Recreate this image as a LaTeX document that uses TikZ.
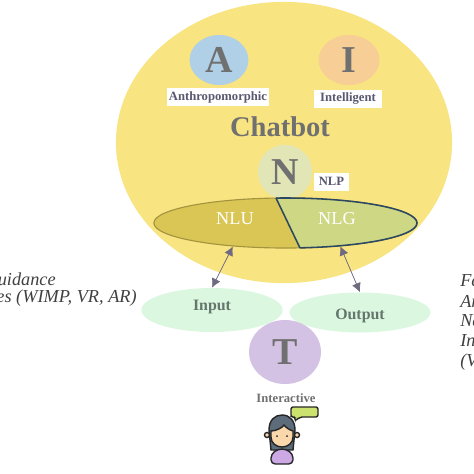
\documentclass[tikz,border=0pt]{standalone}
\usepackage{fontspec}
\setmainfont{Liberation Serif}
\usepackage{xcolor}
\usetikzlibrary{shapes.geometric}
\usetikzlibrary{arrows.meta}
\definecolor{chatbotyellow}{RGB}{248,228,128}
\definecolor{letterblue}{RGB}{176,208,232}
\definecolor{letterorange}{RGB}{246,206,150}
\definecolor{lettergreen}{RGB}{226,230,182}
\definecolor{letterpurple}{RGB}{212,194,228}
\definecolor{mintgreen}{RGB}{220,247,224}
\definecolor{nluyellow}{RGB}{218,198,84}
\definecolor{nlggreen}{RGB}{206,216,132}
\definecolor{darkslate}{RGB}{44,72,96}
\definecolor{lettergray}{RGB}{112,112,112}
\definecolor{labelgray}{RGB}{88,88,112}
\definecolor{arrowgray}{RGB}{112,106,128}
\definecolor{iogray}{RGB}{100,118,110}
\definecolor{skintone}{RGB}{250,216,172}
\definecolor{hairgray}{RGB}{92,108,122}
\definecolor{shirtpurple}{RGB}{204,168,228}
\definecolor{bubblegreen}{RGB}{204,226,110}
\begin{document}
\begin{tikzpicture}[
    x=0.025cm, y=-0.025cm,
    % Round letter nodes
    letter node/.style={ellipse, inner sep=0pt, text=lettergray,
      font=\bfseries\fontsize{27}{27}\selectfont},
    % White boxes below the letters
    white label/.style={fill=white, text=labelgray, inner sep=0pt,
      font=\bfseries\fontsize{9}{10}\selectfont},
    % Input and output
    io node/.style={ellipse, fill=mintgreen, inner sep=0pt, minimum width=3.53cm},
    io text/.style={text=iogray, font=\bfseries\fontsize{11.3}{13}\selectfont},
    nlp text/.style={text=white, font=\fontsize{13}{15}\selectfont},
    % Italic side notes
    side text/.style={anchor=west, inner sep=0pt, text=black!75, font=\itshape\fontsize{13}{14}\selectfont},
    % Two headed arrows
    my edge/.style={{Latex[length=6.5pt, width=6.5pt]}-{Latex[length=6.5pt, width=6.5pt]},
      draw=arrowgray, fill=arrowgray, line width=0.5pt},
    person line/.style={draw=black!85, line width=1pt}
  ]
  \useasboundingbox (0,0) rectangle (474,474);

  % --- Node Definitions ---
  \node[ellipse, fill=chatbotyellow, minimum width=8.4cm, minimum height=7.03cm] (chatbot shape) at (284,142.5) {};
  \node[letter node, fill=letterblue, minimum width=1.47cm, minimum height=1.25cm] (a) at (219,60) {A};
  \node[letter node, fill=letterorange, minimum width=1.52cm, minimum height=1.25cm] (i) at (349,60) {I};
  \node[white label, minimum width=2.55cm, minimum height=0.45cm] (anthropomorphic) at (218,97) {Anthropomorphic};
  \node[white label, minimum width=1.7cm, minimum height=0.45cm] (intelligent) at (348,99) {Intelligent};
  \node[text=lettergray, font=\bfseries\fontsize{20.3}{22}\selectfont] (chatbot) at (280,127) {Chatbot};
  \node[letter node, fill=lettergreen, minimum size=1.36cm] (n) at (285,172) {N};
  \node[white label, minimum width=0.87cm, minimum height=0.45cm] (nlp) at (331.5,181.5) {NLP};

  \node[ellipse, fill=nluyellow, draw=nluyellow!75!black, thick, minimum width=6.58cm, minimum height=1.25cm] (lens) at (285.5,223) {};
  \begin{scope}
    \clip (276,190) -- (276,198) -- (300,248) -- (300,256) -- (425,256) -- (425,190) -- cycle;
    \draw[fill=nlggreen, draw=darkslate, line width=1.1pt] (lens.center) ellipse (131.5 and 25);
  \end{scope}
  \coordinate (split top) at (276,198);
  \coordinate (split bottom) at (300,248);
  \draw[draw=darkslate, line width=1.1pt] (split top) -- (split bottom);
  \node[nlp text] (nlu) at (235,219) {NLU};
  \node[nlp text] (nlg) at (337,219) {NLG};

  \node[io node, minimum height=1.1cm] (input) at (212,310) {};
  \node[io node, minimum height=1cm] (output) at (360,312.5) {};
  \node[io text] (input text) at (212,307) {Input};
  \node[io text] (output text) at (360,316) {Output};
  \node[letter node, fill=letterpurple, minimum width=1.8cm, minimum height=1.6cm] (t) at (285,352) {T};
  \node[text=lettergray, font=\bfseries\fontsize{9}{11}\selectfont] (interactive) at (286,398) {Interactive};

  \node[side text, anchor=east] (guidance) at (56,279) {uidance};
  \node[side text, anchor=east] (wimp) at (137,298) {es (WIMP, VR, AR)};
  \node[side text] (fe) at (460,281) {Fe};
  \node[side text] (ar) at (460,301) {Ar};
  \node[side text] (na) at (460,321) {Na};
  \node[side text] (in) at (460,341) {In};
  \node[side text] (vi) at (460,362) {(V};

  % --- Edge Definitions ---
  \draw[my edge] (lens.204) -- (input.north);
  \draw[my edge] (lens.337) -- (output.north);

  % person
  \draw[person line, fill=bubblegreen, rounded corners=1.5pt] (291,407) -- (318,407) -- (318,417) -- (300,417) -- (295,421) -- (295,417) -- (291,417) -- cycle;
  \draw[person line, fill=hairgray] (271,450) -- (269,430) .. controls (269,420) and (275,415) .. (282,415) .. controls (290,415) and (295,421) .. (295,430) -- (293,450) -- cycle;
  \draw[person line, fill=shirtpurple, rounded corners=3pt] (271,464) -- (271,454) -- (278,449) -- (286,449) -- (293,454) -- (293,464) -- cycle;
  \draw[person line, fill=skintone] (267,435) circle (2.5);
  \draw[person line, fill=skintone] (297,435) circle (2.5);
  \draw[person line, fill=skintone] (271,431) .. controls (276,431) and (282,428) .. (284,425) .. controls (286,428) and (290,430) .. (293,431) -- (293,437) .. controls (293,443) and (288,447) .. (282,447) .. controls (276,447) and (271,443) .. (271,437) -- cycle;
  \fill[black!85] (277,436) circle (1);
  \fill[black!85] (287,436) circle (1);
\end{tikzpicture}
\end{document}
